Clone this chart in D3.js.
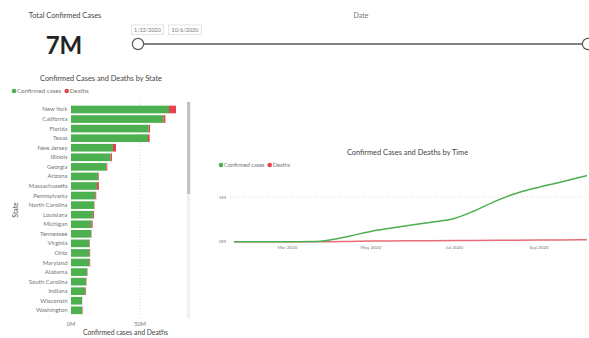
<!DOCTYPE html>
<html>
<head>
<meta charset="utf-8">
<script src="https://cdn.jsdelivr.net/npm/d3@7"></script>
<style>
  html, body { margin: 0; padding: 0; background: #fff; }
  svg { display: block; font-family: Lato, "Segoe UI", sans-serif; }
</style>
</head>
<body>
<svg id="chart" width="589" height="338"></svg>
<script>
// ---- data ----
const totalConfirmedLabel = "7M";
const dateRange = ["1/22/2020", "10/6/2020"];

const states = ["New York", "California", "Florida", "Texas", "New Jersey", "Illinois", "Georgia",
  "Arizona", "Massachusetts", "Pennsylvania", "North Carolina", "Louisiana", "Michigan", "Tennessee",
  "Virginia", "Ohio", "Maryland", "Alabama", "South Carolina", "Indiana", "Wisconsin", "Washington"];
// millions
const stateConfirmed = [71.0, 66.9, 56.3, 55.8, 30.4, 28.7, 25.6, 19.6, 18.8, 17.6, 16.7, 15.9,
  14.7, 14.7, 13.3, 13.3, 13.3, 11.8, 10.9, 10.4, 8.0, 8.0];
const stateDeaths = [5.1, 1.5, 1.0, 1.2, 2.2, 1.0, 0.7, 0.5, 1.4, 0.7, 0.3, 0.7,
  1.0, 0.2, 0.4, 0.6, 0.6, 0.2, 0.3, 0.5, 0.1, 0.4];
const barTicks = [0, 50];

const timeDates = ["2020-01-22", "2020-03-01", "2020-03-20", "2020-04-01", "2020-04-15", "2020-05-01",
  "2020-05-15", "2020-06-01", "2020-06-15", "2020-07-01", "2020-07-15", "2020-08-01", "2020-08-15",
  "2020-09-01", "2020-09-15", "2020-10-01", "2020-10-06"];
const timeConfirmed = [0, 0, 0.02, 0.2, 0.62, 1.15, 1.5, 1.9, 2.2, 2.6, 3.4, 4.6, 5.4, 6.1, 6.6, 7.2, 7.4];
const timeDeaths = [0, 0, 0, 0.005, 0.03, 0.065, 0.09, 0.105, 0.117, 0.128, 0.137, 0.155, 0.17, 0.185, 0.195, 0.208, 0.212];
const timeYTicks = [0, 5];
const timeXTicks = ["2020-03-01", "2020-05-01", "2020-07-01", "2020-09-01"];

const GREEN = "#4CAF50";
const RED = "#E5434F";
const TXT = "#777573";
const TITLE = "#454442";

const svg = d3.select("#chart");
const parse = d3.timeParse("%Y-%m-%d");

// ---- KPI card ----
svg.append("text").attr("x", 65).attr("y", 18).attr("text-anchor", "middle")
  .attr("font-size", 7.4).attr("fill", TITLE).text("Total Confirmed Cases");
svg.append("text").attr("x", 64).attr("y", 53.5).attr("text-anchor", "middle")
  .attr("font-size", 24).attr("font-weight", 700).attr("fill", "#252423").text(totalConfirmedLabel);

// ---- date slicer ----
svg.append("text").attr("x", 361).attr("y", 18).attr("text-anchor", "middle")
  .attr("font-size", 7).attr("fill", TXT).text("Date");
const boxes = [[131.5, 32], [168.5, 33]];
boxes.forEach((b, i) => {
  svg.append("rect").attr("x", b[0]).attr("y", 25).attr("width", b[1]).attr("height", 9.5)
    .attr("fill", "#fff").attr("stroke", "#dcdcdc").attr("stroke-width", 0.8);
  svg.append("text").attr("x", b[0] + b[1] / 2).attr("y", 31.8).attr("text-anchor", "middle")
    .attr("font-size", 5.4).attr("fill", TXT).text(dateRange[i]);
});
svg.append("line").attr("x1", 138).attr("x2", 588).attr("y1", 44).attr("y2", 44)
  .attr("stroke", "#5a5a5a").attr("stroke-width", 1.4);
[138, 588].forEach(cx => {
  svg.append("circle").attr("cx", cx).attr("cy", 44).attr("r", 5.6)
    .attr("fill", "#fff").attr("stroke", "#5a5a5a").attr("stroke-width", 1.2);
});

// ---- legend helper ----
function legend(x, y, size, gap) {
  const g = svg.append("g").attr("transform", `translate(${x},${y})`);
  g.append("circle").attr("cx", 0).attr("cy", 0).attr("r", 2.3).attr("fill", GREEN);
  g.append("text").attr("x", 3).attr("y", 2.1).attr("font-size", size).attr("fill", TXT).text("Confirmed cases");
  g.append("circle").attr("cx", gap).attr("cy", 0).attr("r", 2.3).attr("fill", RED);
  g.append("text").attr("x", gap + 3).attr("y", 2.1).attr("font-size", size).attr("fill", TXT).text("Deaths");
}

// ---- bar chart by state ----
svg.append("text").attr("x", 101).attr("y", 80.5).attr("text-anchor", "middle")
  .attr("font-size", 7.4).attr("fill", TITLE).text("Confirmed Cases and Deaths by State");
legend(14, 91, 6.1, 52.7);

const x = d3.scaleLinear().domain([0, 80]).range([71, 71 + 80 * 69 / 50]);
const y = d3.scaleBand().domain(states).range([104.7, 315.1]).paddingInner(0.2).paddingOuter(0.1);

svg.append("g").selectAll("line").data(barTicks.filter(d => d > 0)).join("line")
  .attr("x1", d => x(d)).attr("x2", d => x(d)).attr("y1", 101).attr("y2", 318)
  .attr("stroke", "#cccccc").attr("stroke-width", 0.7).attr("stroke-dasharray", "1,2");

const rows = states.map((s, i) => ({ s, c: stateConfirmed[i], d: stateDeaths[i] }));
const bars = svg.append("g");
bars.selectAll("rect.c").data(rows).join("rect").attr("class", "c")
  .attr("x", x(0)).attr("y", d => y(d.s)).attr("width", d => x(d.c) - x(0)).attr("height", y.bandwidth())
  .attr("fill", GREEN);
bars.selectAll("rect.d").data(rows).join("rect").attr("class", "d")
  .attr("x", d => x(d.c)).attr("y", d => y(d.s)).attr("width", d => x(d.c + d.d) - x(d.c)).attr("height", y.bandwidth())
  .attr("fill", RED);

svg.append("g").selectAll("text").data(states).join("text")
  .attr("x", 67.5).attr("y", d => y(d) + y.bandwidth() / 2 + 2)
  .attr("text-anchor", "end").attr("font-size", 6).attr("fill", TXT).text(d => d);

svg.append("g").selectAll("text").data(barTicks).join("text")
  .attr("x", d => x(d)).attr("y", 325.5).attr("text-anchor", "middle")
  .attr("font-size", 5.6).attr("fill", TXT).text(d => d + "M");
svg.append("text").attr("x", 125.5).attr("y", 334.5).attr("text-anchor", "middle")
  .attr("font-size", 6.8).attr("fill", TITLE).text("Confirmed cases and Deaths");
svg.append("text").attr("transform", "translate(17.5,210) rotate(-90)").attr("text-anchor", "middle")
  .attr("font-size", 6.8).attr("fill", TITLE).text("State");

// scrollbar
svg.append("rect").attr("x", 187).attr("y", 102).attr("width", 3.2).attr("height", 216).attr("fill", "#f1f1f1");
svg.append("rect").attr("x", 187).attr("y", 102).attr("width", 3.2).attr("height", 92).attr("fill", "#c2c2c2");

// ---- line chart by time ----
svg.append("text").attr("x", 407.5).attr("y", 154.5).attr("text-anchor", "middle")
  .attr("font-size", 7.4).attr("fill", TITLE).text("Confirmed Cases and Deaths by Time");
legend(221, 165, 5.6, 48.7);

const tx = d3.scaleTime().domain([parse("2020-01-22"), parse("2020-10-06")]).range([234, 587]);
const ty = d3.scaleLinear().domain([0, 5]).range([241.7, 197]);

svg.append("g").selectAll("line").data(timeYTicks.filter(d => d > 0)).join("line")
  .attr("x1", 230).attr("x2", 587).attr("y1", d => ty(d)).attr("y2", d => ty(d))
  .attr("stroke", "#cccccc").attr("stroke-width", 0.7).attr("stroke-dasharray", "1,2");
svg.append("g").selectAll("text").data(timeYTicks).join("text")
  .attr("x", 226).attr("y", d => ty(d) + 1.6).attr("text-anchor", "end")
  .attr("font-size", 4.6).attr("fill", TXT).text(d => d + "M");
svg.append("g").selectAll("text").data(timeXTicks).join("text")
  .attr("x", d => tx(parse(d))).attr("y", 249).attr("text-anchor", "middle")
  .attr("font-size", 4.6).attr("fill", TXT).text(d => d3.timeFormat("%b %Y")(parse(d)));

const pts = timeDates.map((d, i) => ({ t: parse(d), c: timeConfirmed[i], d: timeDeaths[i] }));
const lineC = d3.line().x(d => tx(d.t)).y(d => ty(d.c)).curve(d3.curveMonotoneX);
const lineD = d3.line().x(d => tx(d.t)).y(d => ty(d.d)).curve(d3.curveMonotoneX);
svg.append("path").datum(pts).attr("d", lineD).attr("fill", "none").attr("stroke", "#E66C77").attr("stroke-width", 1.5);
svg.append("path").datum(pts).attr("d", lineC).attr("fill", "none").attr("stroke", GREEN).attr("stroke-width", 1.5);
</script>
</body>
</html>
